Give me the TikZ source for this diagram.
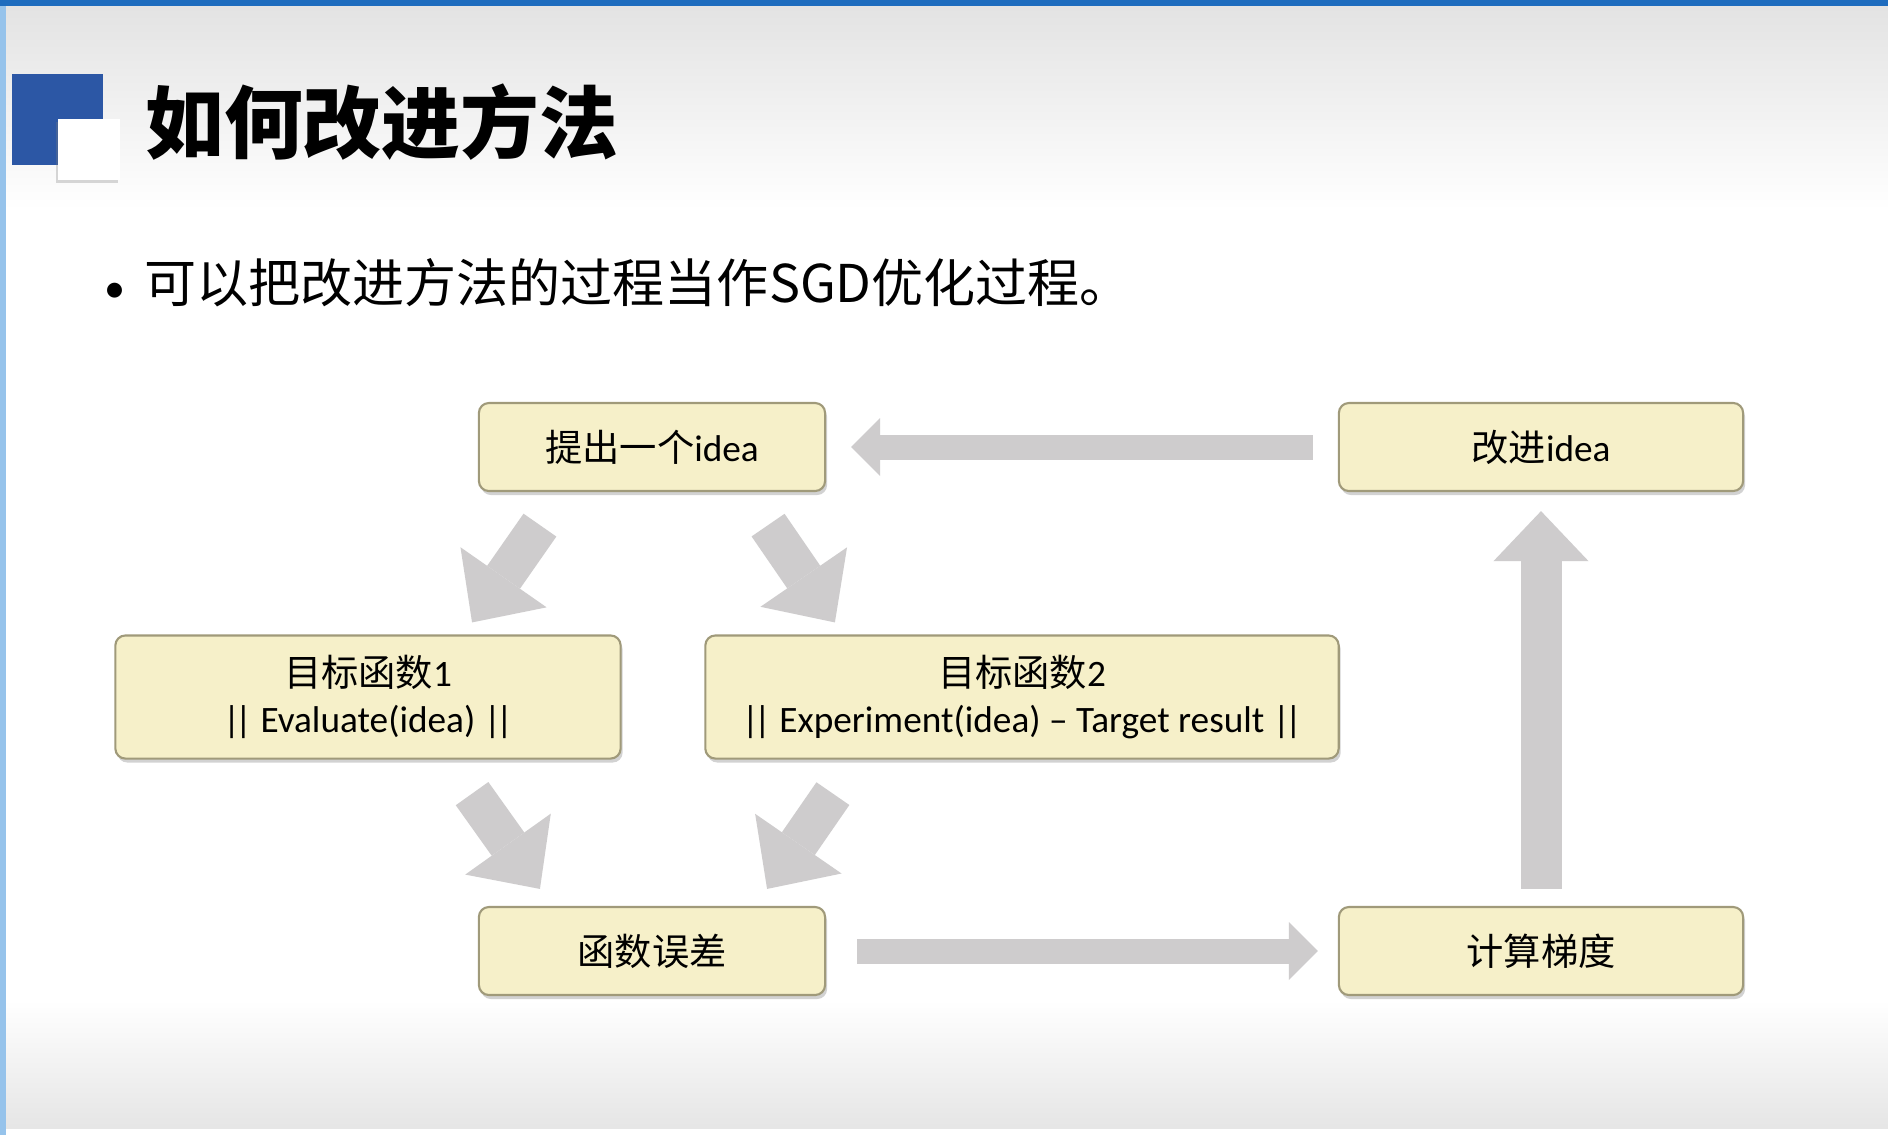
\documentclass[tikz,border=0pt]{standalone}
\usepackage{fontspec}
\setmainfont{Carlito}
\newfontfamily\cjk{Noto Sans CJK SC}
\usetikzlibrary{arrows.meta, shadows}
\definecolor{slideblue}{RGB}{30,108,190}
\definecolor{edgeblue}{RGB}{150,195,235}
\definecolor{squareblue}{RGB}{44,87,165}
\definecolor{boxfill}{RGB}{246,240,201}
\definecolor{boxline}{RGB}{160,154,122}
\definecolor{arrowgray}{RGB}{206,204,205}
\newcommand{\dbar}{|\kern-0.14em|}
\tikzstyle{ideabox} = [rectangle, rounded corners=0.1cm, fill=boxfill, draw=boxline, line width=0.6pt, minimum height=0.88cm, text centered, inner sep=0pt, drop shadow={shadow xshift=0.02cm, shadow yshift=-0.04cm, opacity=0.35}, font=\fontsize{10.6}{13.2}\selectfont]
\tikzstyle{goalbox} = [ideabox, minimum height=1.23cm, align=center]
\tikzstyle{flat} = [draw=arrowgray, line width=0.25cm, -{Triangle[length=0.29cm 0, width=0.58cm 0, line width=0pt]}]
\tikzstyle{upright} = [draw=arrowgray, line width=0.41cm, -{Triangle[length=0.5cm 0, width=0.95cm 0, line width=0pt]}]
\tikzstyle{slant} = [draw=arrowgray, line width=0.40cm, -{Triangle[length=0.55cm 0, width=1.05cm 0, line width=0pt]}]
\begin{document}
\begin{tikzpicture}[x=0.01cm, y=-0.01cm]
\useasboundingbox (0,0) rectangle (1888,1135);
\fill[white] (0,0) rectangle (1888,1135);
\shade[top color=black!11, bottom color=white] (0,6) rectangle (1888,210);
\shade[top color=white, bottom color=black!10] (0,1000) rectangle (1888,1128);
\fill[slideblue] (0,0) rectangle (1888,6);
\fill[edgeblue] (0,6) rectangle (6,1135);
\fill[squareblue] (12,74) rectangle (103,165);
\fill[white, drop shadow={shadow xshift=-0.02cm, shadow yshift=-0.03cm, opacity=0.3}] (58,119) rectangle (120,180);
\node (title) [anchor=west, font=\cjk\bfseries\fontsize{22.4}{26}\selectfont] at (133,122) {如何改进方法};
\node (point) [anchor=west, font=\fontsize{14.8}{18}\selectfont] at (92,283) {\makebox[0.40cm][l]{\fontsize{12}{14}\selectfont•}{\cjk 可以把改进方法的过程当作SGD优化过程。}};
\node (propose) [ideabox, minimum width=3.46cm] at (652,447) {{\cjk 提出一个}idea};
\node (improve) [ideabox, minimum width=4.04cm] at (1541,447) {{\cjk 改进}idea};
\node (obj1) [goalbox, minimum width=5.05cm] at (368,697) {{\cjk 目标函数}1\\\dbar{} Evaluate(idea) \dbar};
\node (obj2) [goalbox, minimum width=6.33cm] at (1022,697) {{\cjk 目标函数}2\\\dbar{} Experiment(idea) -- Target result \dbar};
\node (error) [ideabox, minimum width=3.46cm] at (652,951) {\cjk 函数误差};
\node (gradient) [ideabox, minimum width=4.04cm] at (1541,951) {\cjk 计算梯度};
\draw [flat, shorten <=0.25cm, shorten >=0.25cm] (improve) -- (propose);
\draw [slant] ([xshift=-1.12cm, yshift=-0.33cm]propose.south) -- ([xshift=1.04cm, yshift=0.12cm]obj1.north);
\draw [slant] ([xshift=1.16cm, yshift=-0.33cm]propose.south) -- ([xshift=-1.87cm, yshift=0.12cm]obj2.north);
\draw [slant] ([xshift=1.04cm, yshift=-0.34cm]obj1.south) -- ([xshift=-1.12cm, yshift=0.17cm]error.north);
\draw [slant] ([xshift=-1.89cm, yshift=-0.34cm]obj2.south) -- ([xshift=1.15cm, yshift=0.17cm]error.north);
\draw [flat, shorten <=0.31cm, shorten >=0.20cm] (error) -- (gradient);
\draw [upright, shorten <=0.17cm, shorten >=0.19cm] (gradient) -- (improve);
\end{tikzpicture}
\end{document}
